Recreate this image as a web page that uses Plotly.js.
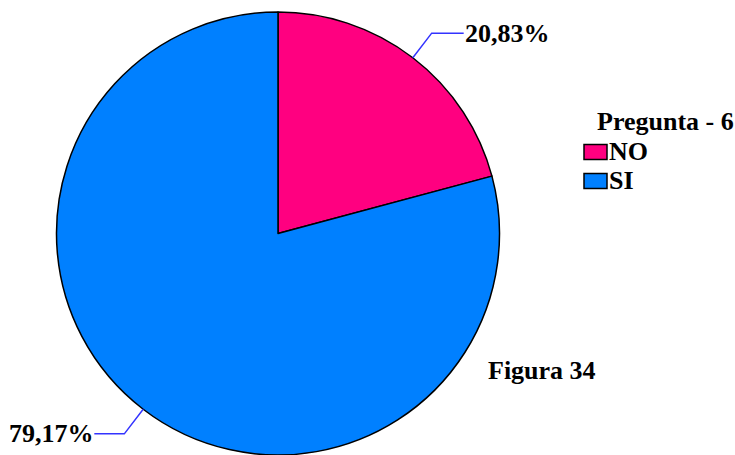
<!DOCTYPE html>
<html>
<head>
<meta charset="utf-8">
<script src="https://cdn.plot.ly/plotly-3.0.1.min.js"></script>
<style>html,body{margin:0;padding:0;background:#fff;}#chart{width:735px;height:455px;}</style>
</head>
<body>
<div id="chart"></div>
<script>
const categories = ["NO", "SI"];
const values = [20.83, 79.17];
const colors = ["#FF0080", "#0080FF"];
const legendTitle = "Pregunta - 6";
const figureLabel = "Figura 34";

const W = 735, H = 455;
const cx = 278, cy = 233.5, R = 221.5;
const FONT = "'Liberation Serif', 'Times New Roman', Times, serif";
const FS = 26;

function px(x) { return x / W; }
function py(y) { return 1 - y / H; }
function fmt(v) { return v.toFixed(2).replace(".", ",") + "%"; }

const total = values.reduce((a, b) => a + b, 0);
const shapes = [];
const annotations = [];
let start = 0;
values.forEach((v, i) => {
  const frac = v / total;
  const mid = (start + frac / 2) * 2 * Math.PI; // clockwise from 12 o'clock
  start += frac;
  const sx = Math.sin(mid), sy = -Math.cos(mid);
  const x0 = cx + R * sx, y0 = cy + R * sy;
  const x1 = cx + (R + 31) * sx, y1 = cy + (R + 31) * sy;
  const right = sx >= 0;
  const x2 = x1 + (right ? 32 : -30);
  shapes.push({
    type: "path", xref: "paper", yref: "paper",
    path: `M${px(x0)},${py(y0)} L${px(x1)},${py(y1)} L${px(x2)},${py(y1)}`,
    line: { color: "#3333FF", width: 1.5 }
  });
  annotations.push({
    xref: "paper", yref: "paper", x: px(x2 + (right ? -1 : 2)), y: py(y1),
    xanchor: right ? "left" : "right", yanchor: "middle", showarrow: false,
    text: "<b>" + fmt(v) + "</b>", font: { family: FONT, size: FS, color: "#000" }
  });
});

// Legend
annotations.push({
  xref: "paper", yref: "paper", x: px(595), y: py(122), xanchor: "left", yanchor: "middle",
  showarrow: false, text: "<b>" + legendTitle + "</b>", font: { family: FONT, size: FS, color: "#000" }
});
categories.forEach((c, i) => {
  const yc = 152 + i * 29;
  shapes.push({
    type: "rect", xref: "paper", yref: "paper",
    x0: px(584), x1: px(607), y0: py(yc - 7.5), y1: py(yc + 7.5),
    fillcolor: colors[i], line: { color: "#000", width: 1.5 }
  });
  annotations.push({
    xref: "paper", yref: "paper", x: px(607), y: py(yc), xanchor: "left", yanchor: "middle",
    showarrow: false, text: "<b>" + c + "</b>", font: { family: FONT, size: FS, color: "#000" }
  });
});

annotations.push({
  xref: "paper", yref: "paper", x: px(542), y: py(370), xanchor: "center", yanchor: "middle",
  showarrow: false, text: "<b>" + figureLabel + "</b>", font: { family: FONT, size: FS, color: "#000" }
});

const trace = {
  type: "pie",
  labels: categories,
  values: values,
  sort: false,
  direction: "clockwise",
  rotation: 0,
  textinfo: "none",
  hoverinfo: "none",
  marker: { colors: colors, line: { color: "#000", width: 1.5 } },
  domain: { x: [px(cx - R), px(cx + R)], y: [py(cy + R), py(cy - R)] },
  showlegend: false
};

Plotly.newPlot("chart", [trace], {
  width: W, height: H,
  margin: { l: 0, r: 0, t: 0, b: 0 },
  paper_bgcolor: "#fff",
  showlegend: false,
  shapes: shapes,
  annotations: annotations
}, { staticPlot: true });
</script>
</body>
</html>
